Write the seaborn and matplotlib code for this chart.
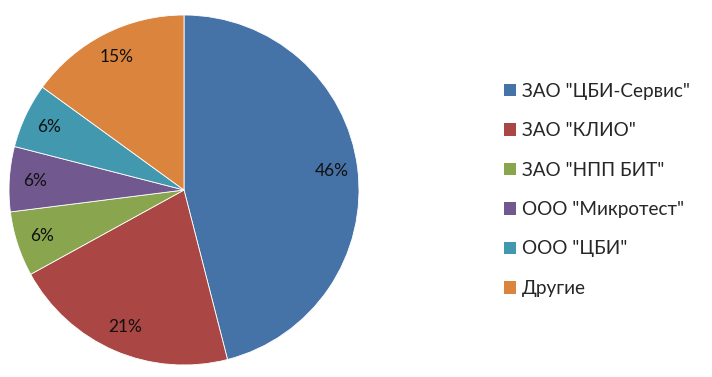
import matplotlib
matplotlib.use("Agg")
import matplotlib.pyplot as plt
import seaborn as sns
from matplotlib.patches import Patch

categories = ['ЗАО "ЦБИ-Сервис"', 'ЗАО "КЛИО"', 'ЗАО "НПП БИТ"', 'ООО "Микротест"', 'ООО "ЦБИ"', 'Другие']
values = [46, 21, 6, 6, 6, 15]
colors = ['#4572A7', '#AA4643', '#89A54E', '#71588F', '#4198AF', '#DB843D']

sns.set_theme(style="white")
plt.rcParams['font.family'] = ['Lato', 'DejaVu Sans']

palette = sns.color_palette(colors)
fig = plt.figure(figsize=(7.12, 3.77), dpi=100)
W, H = 712, 377
cx, cy, r = 184, 190, 175
ax = fig.add_axes([(cx - r) / W, (H - cy - r) / H, 2 * r / W, 2 * r / H])
wedges, texts, autotexts = ax.pie(values, colors=palette, startangle=90, counterclock=False,
                                  autopct='%1.0f%%', pctdistance=0.85,
                                  wedgeprops=dict(linewidth=0.6, edgecolor='white'),
                                  textprops=dict(fontsize=12.5, color='#111111'))
ax.set_xlim(-1, 1)
ax.set_ylim(-1, 1)
ax.set_aspect('equal')

handles = [Patch(facecolor=c, edgecolor='none') for c in palette]
fig.legend(handles, categories, loc='upper left', bbox_to_anchor=(496 / W, 1 - 75 / H),
           frameon=False, fontsize=13.6, handlelength=0.65, handleheight=0.65,
           labelspacing=1.19, handletextpad=0.3, borderaxespad=0)

fig.savefig('out.png', dpi=100)
